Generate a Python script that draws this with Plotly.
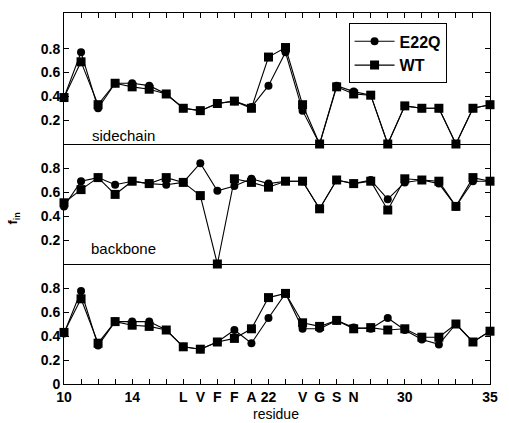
import plotly.graph_objects as go

residues = list(range(10, 36))

# sidechain (top panel)
side_e22q = [0.39, 0.77, 0.30, 0.51, 0.51, 0.49, 0.42, 0.30, 0.28, 0.34, 0.36, 0.31, 0.49,
             0.77, 0.28, 0.00, 0.49, 0.44, 0.41, 0.00, 0.32, 0.30, 0.30, 0.00, 0.30, 0.33]
side_wt = [0.39, 0.69, 0.33, 0.51, 0.48, 0.46, 0.42, 0.30, 0.28, 0.34, 0.36, 0.30, 0.73,
           0.81, 0.33, 0.00, 0.48, 0.42, 0.41, 0.00, 0.32, 0.30, 0.30, 0.00, 0.30, 0.33]
# backbone (middle panel)
back_e22q = [0.48, 0.69, 0.72, 0.66, 0.69, 0.67, 0.66, 0.68, 0.84, 0.61, 0.65, 0.71, 0.67,
             0.69, 0.69, 0.46, 0.70, 0.67, 0.70, 0.54, 0.68, 0.70, 0.67, 0.48, 0.69, 0.69]
back_wt = [0.51, 0.62, 0.72, 0.58, 0.69, 0.67, 0.72, 0.68, 0.57, 0.00, 0.71, 0.68, 0.64,
           0.69, 0.69, 0.46, 0.70, 0.67, 0.69, 0.45, 0.71, 0.70, 0.69, 0.48, 0.72, 0.69]
# total (bottom panel)
tot_e22q = [0.42, 0.775, 0.32, 0.52, 0.52, 0.52, 0.45, 0.31, 0.29, 0.35, 0.45, 0.34, 0.55,
            0.755, 0.46, 0.46, 0.53, 0.47, 0.46, 0.55, 0.45, 0.37, 0.33, 0.50, 0.35, 0.44]
tot_wt = [0.43, 0.71, 0.34, 0.52, 0.49, 0.48, 0.45, 0.31, 0.29, 0.35, 0.38, 0.46, 0.72,
          0.755, 0.51, 0.48, 0.53, 0.46, 0.47, 0.45, 0.46, 0.39, 0.39, 0.50, 0.35, 0.44]

tick_vals = [10, 14, 17, 18, 19, 20, 21, 22, 24, 25, 26, 27, 30, 35]
tick_text = ["10", "14", "L", "V", "F", "F", "A", "22", "V", "G", "S", "N", "30", "35"]

FONT = "Liberation Sans, Arial, sans-serif"

fig = go.Figure()

panels = [("x", "y", tot_e22q, tot_wt), ("x2", "y2", back_e22q, back_wt), ("x3", "y3", side_e22q, side_wt)]
for i, (xa, ya, e, w) in enumerate(panels):
    show = (i == 2)
    fig.add_trace(go.Scatter(x=residues, y=e, xaxis=xa, yaxis=ya, mode="lines+markers",
                             name="E22Q", showlegend=show, legendgroup="e",
                             line=dict(color="black", width=1.1),
                             marker=dict(symbol="circle", size=8, color="black"),
                             cliponaxis=False))
    fig.add_trace(go.Scatter(x=residues, y=w, xaxis=xa, yaxis=ya, mode="lines+markers",
                             name="WT", showlegend=show, legendgroup="w",
                             line=dict(color="black", width=1.1),
                             marker=dict(symbol="square", size=9, color="black"),
                             cliponaxis=False))

h = 371.0
d1 = 120 / h
d2 = 240 / h

axis_common = dict(showline=True, linecolor="black", linewidth=1,
                   showgrid=False, zeroline=False, range=[10, 35])
ytick_font = dict(family=FONT, size=14, color="black", weight="bold")

fig.update_layout(
    width=509, height=423,
    margin=dict(l=64, r=11, t=13, b=39),
    paper_bgcolor="white", plot_bgcolor="white",
    font=dict(family=FONT, size=14, color="black"),
    xaxis=dict(**axis_common, mirror=False, anchor="y", tickmode="array", tickvals=tick_vals,
               ticktext=tick_text, ticks="inside", ticklen=5, tickcolor="black",
               tickfont=ytick_font,
               minor=dict(tickmode="linear", dtick=1, tick0=10, ticks="inside", ticklen=5, tickcolor="black")),
    xaxis2=dict(**axis_common, mirror=False, anchor="y2", matches="x", showticklabels=False, ticks=""),
    xaxis3=dict(**axis_common, mirror=True, anchor="y3", matches="x", side="top", showticklabels=False,
                tickmode="linear", dtick=1, tick0=10, ticks="inside", ticklen=5, tickcolor="black"),
    yaxis=dict(domain=[0, d1], range=[0, 1.0], showline=True, linecolor="black", mirror="ticks",
               showgrid=False, zeroline=False, tickvals=[0, 0.2, 0.4, 0.6, 0.8],
               ticktext=["0", "0.2", "0.4", "0.6", "0.8"],
               ticks="inside", ticklen=5, tickcolor="black", tickfont=ytick_font, anchor="x"),
    yaxis2=dict(domain=[d1, d2], range=[0, 1.0], showline=True, linecolor="black", mirror="ticks",
                showgrid=False, zeroline=False, tickvals=[0.2, 0.4, 0.6, 0.8],
                ticks="inside", ticklen=5, tickcolor="black", tickfont=ytick_font, anchor="x2"),
    yaxis3=dict(domain=[d2, 1], range=[0, 1.1], showline=True, linecolor="black", mirror="ticks",
                showgrid=False, zeroline=False, tickvals=[0.2, 0.4, 0.6, 0.8],
                ticks="inside", ticklen=5, tickcolor="black", tickfont=ytick_font, anchor="x3"),
    legend=dict(x=0.668, y=0.972, xanchor="left", yanchor="top", xref="paper", yref="paper",
                bordercolor="black", borderwidth=1, bgcolor="white",
                font=dict(family=FONT, size=16, color="black", weight="bold"),
                tracegroupgap=0, itemwidth=40),
    showlegend=True,
    annotations=[
        dict(text="sidechain", x=13.5, y=0.075, xref="x3", yref="y3", showarrow=False,
             font=dict(family=FONT, size=15, color="black")),
        dict(text="backbone", x=13.5, y=0.13, xref="x2", yref="y2", showarrow=False,
             font=dict(family=FONT, size=15, color="black")),
        dict(text="residue", x=0.498, y=-0.082, xref="paper", yref="paper", showarrow=False,
             yanchor="middle", font=dict(family=FONT, size=14, color="black")),
        dict(text="f<sub>in</sub>", x=-0.118, y=(d1 + d2) / 2 - 0.04, xref="paper", yref="paper",
             showarrow=False, textangle=-90, xanchor="center", yanchor="middle",
             font=dict(family=FONT, size=13, color="black", weight="bold")),
    ],
)

fig.write_html("out.html")
